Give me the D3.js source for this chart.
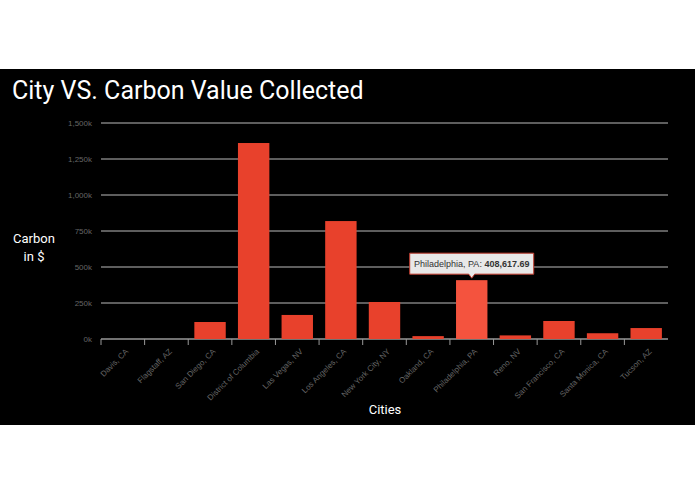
<!DOCTYPE html>
<html><head><meta charset="utf-8">
<script src="https://cdn.jsdelivr.net/npm/d3@7"></script>
<style>body{margin:0;background:#fff;font-family:Roboto,"Noto Sans",sans-serif}</style>
</head><body><svg id="chart"></svg>
<script>
const cities = ["Davis, CA","Flagstaff, AZ","San Diego, CA","District of Columbia","Las Vegas, NV","Los Angeles, CA","New York City, NY","Oakland, CA","Philadelphia, PA","Reno, NV","San Francisco, CA","Santa Monica, CA","Tucson, AZ"];
const carbon = [0, 0, 118000, 1361000, 167000, 819000, 257000, 20000, 408617.69, 25000, 125000, 40000, 76000];
const yTicks = [0, 250000, 500000, 750000, 1000000, 1250000, 1500000];
const highlighted = "Philadelphia, PA";

const W = 695, H = 494;
const svg = d3.select("#chart").attr("width", W).attr("height", H);
svg.append("rect").attr("x", 0).attr("y", 69).attr("width", W).attr("height", 356).attr("fill", "#000");

svg.append("text").attr("x", 12).attr("y", 99).attr("fill", "#fff")
  .style("font-size", "25px").text("City VS. Carbon Value Collected");

const x = d3.scaleBand().domain(cities).range([101, 668]).paddingInner(0.28).paddingOuter(0.14);
const y = d3.scaleLinear().domain([0, 1500000]).range([339, 123]);

const g = svg.append("g");
g.selectAll(".grid").data(yTicks).join("line")
  .attr("x1", 101).attr("x2", 668).attr("y1", d => y(d)).attr("y2", d => y(d))
  .attr("stroke", d => d === 0 ? "#999" : "#bbb").attr("stroke-width", d => d === 0 ? 1.5 : 1);
g.selectAll(".ylab").data(yTicks).join("text")
  .attr("x", 92).attr("y", d => y(d) + 3).attr("text-anchor", "end")
  .attr("fill", "#666").style("font-size", "8px").style("font-family", "Arial, Liberation Sans")
  .text(d => d3.format(",")(d / 1000) + "k");

const step = x.step();
const edges = d3.range(cities.length + 1).map(i => 101 + i * (567 / 13));
g.selectAll(".xt").data(edges.slice(0, -1)).join("line")
  .attr("x1", d => d).attr("x2", d => d).attr("y1", 339).attr("y2", 345).attr("stroke", "#999");

g.selectAll(".bar").data(cities).join("rect")
  .attr("x", d => x(d)).attr("width", x.bandwidth())
  .attr("y", (d, i) => y(carbon[i])).attr("height", (d, i) => 339 - y(carbon[i]))
  .attr("fill", d => d === highlighted ? "#f4533e" : "#e8412c");

g.selectAll(".xlab").data(cities).join("text")
  .attr("transform", d => `translate(${x(d) + x.bandwidth() / 2 + 6},${352}) rotate(-45)`)
  .attr("text-anchor", "end").attr("fill", "#666")
  .style("font-size", "8px").style("font-family", "Arial, Liberation Sans").text(d => d);

svg.append("text").attr("x", 34).attr("y", 243).attr("text-anchor", "middle").attr("fill", "#fff")
  .style("font-size", "13px").text("Carbon");
svg.append("text").attr("x", 34).attr("y", 261).attr("text-anchor", "middle").attr("fill", "#fff")
  .style("font-size", "13px").text("in $");
svg.append("text").attr("x", 385).attr("y", 414).attr("text-anchor", "middle").attr("fill", "#fff")
  .style("font-size", "13px").text("Cities");

// tooltip
const hi = cities.indexOf(highlighted);
const cx = x(highlighted) + x.bandwidth() / 2, ty = y(carbon[hi]) - 6;
const tip = svg.append("g");
tip.append("path")
  .attr("d", `M${cx - 62},${ty - 21} h124 v21 h-59 l-3,4 l-3,-4 h-59 z`)
  .attr("fill", "#e8e8e8").attr("stroke", "#c0392b").attr("stroke-width", 1);
const tt = tip.append("text").attr("x", cx).attr("y", ty - 7).attr("text-anchor", "middle")
  .attr("fill", "#333").style("font-size", "9px").style("font-family", "Arial, Liberation Sans");
tt.append("tspan").text(highlighted + ": ");
tt.append("tspan").attr("font-weight", "bold").text(d3.format(",.2f")(carbon[hi]));
</script></body></html>
